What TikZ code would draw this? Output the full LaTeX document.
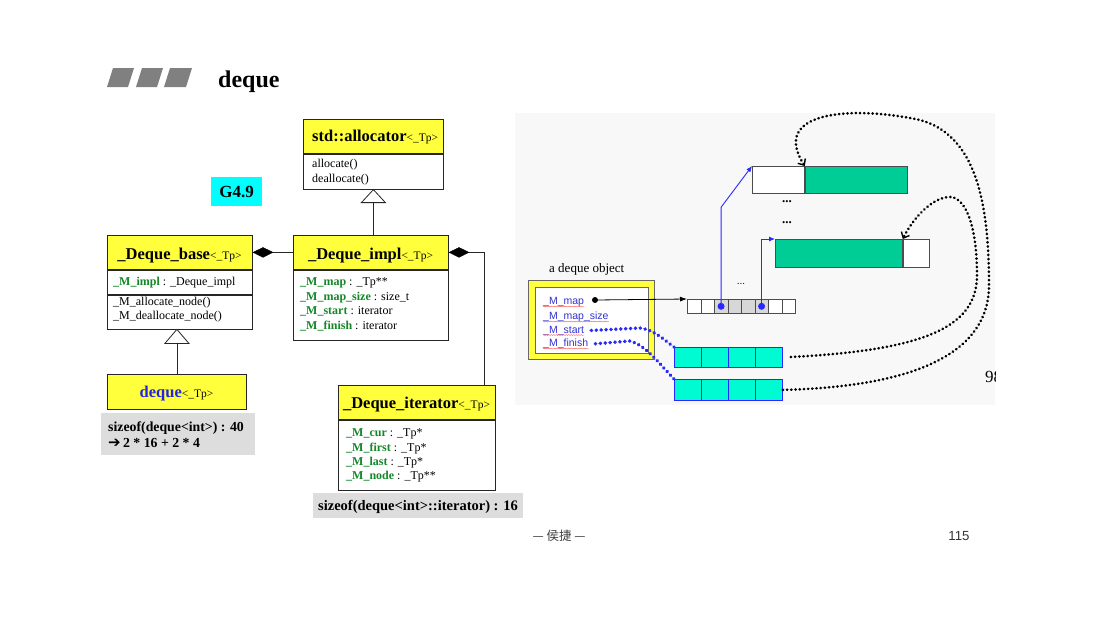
\documentclass[tikz,border=0pt]{standalone}
\usepackage{fontspec}
\setmainfont{Liberation Serif}
\newfontfamily\sansf{Liberation Sans}
\newfontfamily\cjkf{Noto Sans CJK SC}
\newfontfamily\dvf{DejaVu Sans}
\usetikzlibrary{shapes.geometric,arrows.meta,calc,decorations.pathmorphing}
\definecolor{uyellow}{RGB}{255,255,60}
\definecolor{ugreen}{RGB}{20,135,40}
\definecolor{ublue}{RGB}{35,35,230}
\definecolor{ucyan}{RGB}{0,255,255}
\definecolor{bufgreen}{RGB}{0,204,150}
\definecolor{blkcyan}{RGB}{0,250,210}
\definecolor{boxgray}{RGB}{221,221,221}
\definecolor{panelgray}{RGB}{248,248,248}
\definecolor{fieldblue}{RGB}{50,50,210}
\definecolor{linkblue}{RGB}{40,40,255}
\definecolor{titlegray}{RGB}{128,128,128}
\definecolor{mapgray}{RGB}{215,215,215}
\newcommand{\myfs}[1]{\fontsize{#1}{#1}\selectfont}
\newcommand{\ufld}[1]{\textcolor{ugreen}{\textbf{#1}}}
\newcommand{\utp}{{\myfs{11.5}<\_Tp>}}
\begin{document}
\begin{tikzpicture}[x=1pt,y=-1pt,
  umlhead/.style={draw=black!85, fill=uyellow, line width=0.8pt, anchor=north west, inner sep=0pt},
  umlbody/.style={draw=black!85, fill=white, line width=0.8pt, anchor=north west, inner sep=0pt},
  umlline/.style={draw=black!85, line width=0.8pt},
  graybox/.style={fill=boxgray, anchor=north west, inner sep=0pt},
  hdrtxt/.style={inner sep=0pt, anchor=base, font=\myfs{16.5}},
  txt/.style={inner sep=0pt, anchor=base west, font=\myfs{12}},
  diam/.style={diamond, aspect=2, fill=black, draw=black, minimum width=20pt, minimum height=10pt, inner sep=0pt},
  fieldtxt/.style={inner sep=0pt, anchor=base west, font=\sansf\myfs{10.5}, text=fieldblue},
  wavy/.style={draw=red!70, line width=0.35pt, decorate, decoration={snake, amplitude=0.5pt, segment length=2.5pt}},
  mapcell/.style={draw=black!70, line width=0.6pt, anchor=north west, inner sep=0pt, minimum width=13.5pt, minimum height=14pt},
  bufbox/.style={draw=black!70, line width=0.8pt, anchor=north west, inner sep=0pt},
  blk/.style={draw=linkblue, fill=blkcyan, line width=0.8pt, anchor=north west, inner sep=0pt, minimum width=108pt},
  bluelink/.style={draw=linkblue, line width=0.9pt, -{Latex[length=6pt,width=5pt]}},
  bluedots/.style={draw=linkblue, line width=3.6pt, dash pattern=on 0.3pt off 4.6pt, line cap=round},
  blackdots/.style={draw=black, line width=2.7pt, dash pattern=on 0.3pt off 3.9pt, line cap=round, -{Straight Barb[length=5pt,width=9pt,line width=1.4pt]}},
  bigdot/.style={circle, inner sep=0pt, minimum size=#1}
]
\useasboundingbox (0,0) rectangle (1099,630);
\fill[white] (0,0) rectangle (1099,630);

% ---------- title ----------
\fill[titlegray] (107,87) -- (113,68) -- (134,68) -- (128,87) -- cycle;
\fill[titlegray] (136,87) -- (142,68) -- (163,68) -- (157,87) -- cycle;
\fill[titlegray] (164,87) -- (170,68) -- (192,68) -- (186,87) -- cycle;
\node[inner sep=0pt, anchor=base west, font=\bfseries\myfs{24}] (title) at (218,87) {deque};

% ---------- std::allocator ----------
\node[umlhead, minimum width=140pt, minimum height=34pt] (allochdr) at (303,119) {};
\node[umlbody, minimum width=140pt, minimum height=35pt] (allocbody) at (allochdr.south west) {};
\node[inner sep=0pt, anchor=base west, font=\myfs{16.5}] (alloct) at (312,141) {\textbf{std::allocator}\utp};
\node[txt] (alloc1) at (312,167) {allocate()};
\node[txt] (alloc2) at (312,182) {deallocate()};

% ---------- G4.9 ----------
\node[fill=ucyan, anchor=north west, inner sep=0pt, minimum width=51pt, minimum height=29pt] (g49) at (211,177) {};
\node[inner sep=0pt, font=\bfseries\myfs{17}] (g49t) at (g49.center) {G4.9};

% ---------- _Deque_base ----------
\node[umlhead, minimum width=145pt, minimum height=34pt] (basehdr) at (107,235) {};
\node[umlbody, minimum width=145pt, minimum height=24pt] (baseattr) at (basehdr.south west) {};
\node[umlbody, minimum width=145pt, minimum height=34pt] (basemeth) at (baseattr.south west) {};
\node[hdrtxt] (baset) at (179.5,259) {\textbf{\_Deque\_base}\utp};
\node[txt] (base1) at (113,285) {\ufld{\_M\_impl} : \_Deque\_impl};
\node[txt] (base2) at (113,305) {\_M\_allocate\_node()};
\node[txt] (base3) at (113,319) {\_M\_deallocate\_node()};

% ---------- _Deque_impl ----------
\node[umlhead, minimum width=155pt, minimum height=34pt] (implhdr) at (293,235) {};
\node[umlbody, minimum width=155pt, minimum height=70pt] (implbody) at (implhdr.south west) {};
\node[hdrtxt] (implt) at (370.5,259) {\textbf{\_Deque\_impl}\utp};
\node[txt] (impl1) at (300,285) {\ufld{\_M\_map} : \_Tp**};
\node[txt] (impl2) at (300,300) {\ufld{\_M\_map\_size} : size\_t};
\node[txt] (impl3) at (300,314) {\ufld{\_M\_start} : iterator};
\node[txt] (impl4) at (300,329) {\ufld{\_M\_finish} : iterator};

% ---------- _Deque_iterator ----------
\node[umlhead, minimum width=157pt, minimum height=34pt] (iterhdr) at (338,385) {};
\node[umlbody, minimum width=157pt, minimum height=70pt] (iterbody) at (iterhdr.south west) {};
\node[hdrtxt] (itert) at (416.5,408) {\textbf{\_Deque\_iterator}\utp};
\node[txt] (iter1) at (346,436) {\ufld{\_M\_cur} : \_Tp*};
\node[txt] (iter2) at (346,451) {\ufld{\_M\_first} : \_Tp*};
\node[txt] (iter3) at (346,465) {\ufld{\_M\_last} : \_Tp*};
\node[txt] (iter4) at (346,479) {\ufld{\_M\_node} : \_Tp**};

% ---------- deque ----------
\node[umlhead, minimum width=139pt, minimum height=35pt] (dequebox) at (107,374) {};
\node[hdrtxt] (dequet) at (176.5,397) {\textcolor{ublue}{\textbf{deque}}\utp};

% ---------- sizeof boxes ----------
\node[graybox, minimum width=154pt, minimum height=42pt] (sz1) at (101,413) {};
\node[inner sep=0pt, anchor=base west, font=\bfseries\myfs{13.8}] (sz1a) at (108,431) {sizeof(deque<int>) : 40};
\node[inner sep=0pt, anchor=base west, font=\bfseries\myfs{13.8}] (sz1b) at (108,447) {{\dvf\mdseries\myfs{15}➔}\,2 * 16 + 2 * 4};
\node[graybox, minimum width=210pt, minimum height=25pt] (sz2) at (313,493) {};
\node[inner sep=0pt, anchor=base, font=\bfseries\myfs{14.5}] (sz2a) at (418,510) {sizeof(deque<int>::iterator) : 16};

% ---------- UML connectors ----------
\coordinate (a1) at ($(allocbody.south)+(0,13)$);
\draw[umlline, fill=white] (allocbody.south) -- ($(allocbody.south)+(-12,13)$) -- ($(allocbody.south)+(12,13)$) -- cycle;
\draw[umlline] (a1) -- (a1 |- implhdr.north);

\coordinate (b0) at (dequebox.north |- basemeth.south);
\coordinate (b1) at ($(b0)+(0,14)$);
\draw[umlline, fill=white] (b0) -- ($(b0)+(-12,14)$) -- ($(b0)+(12,14)$) -- cycle;
\draw[umlline] (b1) -- (dequebox.north);

\node[diam, anchor=west] (dm1) at (basehdr.east) {};
\draw[umlline] (dm1.east) -- (implhdr.west);
\node[diam, anchor=west] (dm2) at (implhdr.east) {};
\draw[umlline] (dm2.east) -| ([xshift=-11pt]iterhdr.north east);

% ---------- right panel ----------
\fill[panelgray] (515,113) rectangle (995,405);
\begin{scope}
\clip (515,113) rectangle (995,405);
\node[inner sep=0pt, anchor=base west, font=\myfs{17}] (p98) at (985,382) {98};
\end{scope}

\node[inner sep=0pt, anchor=base west, font=\myfs{13}] (dqobj) at (549,272) {a deque object};
\node[fill=uyellow, draw=black!60, line width=0.5pt, anchor=north west, inner sep=0pt, minimum width=126pt, minimum height=79pt] (objframe) at (528,280) {};
\node[fill=white, draw=black!60, line width=0.5pt, anchor=north west, inner sep=0pt, minimum width=113pt, minimum height=66pt] (objinner) at (534.5,286.5) {};
\node[fieldtxt] (fmap) at (543,304.5) {\_M\_map};
\node[fieldtxt] (fmsize) at (543,319.5) {\_M\_map\_size};
\node[fieldtxt] (fstart) at (543,333) {\_M\_start};
\node[fieldtxt] (ffinish) at (543,346.5) {\_M\_finish};
\foreach \f in {fmap,fmsize,fstart,ffinish}
  \draw[wavy] ([yshift=-2pt]\f.base west) -- ([yshift=-2pt]\f.base east);

% map
\foreach \i in {0,...,7} {
  \ifnum\i>1 \ifnum\i<6
    \node[mapcell, fill=mapgray] (m\i) at (687+13.5*\i,299) {};
  \else
    \node[mapcell, fill=white] (m\i) at (687+13.5*\i,299) {};
  \fi \else
    \node[mapcell, fill=white] (m\i) at (687+13.5*\i,299) {};
  \fi
}
\node[bigdot=6pt, fill=black] (mapdot) at (595,300) {};
\draw[draw=black, line width=0.8pt, -{Latex[length=7pt,width=5pt]}] (mapdot) -- (m0.north west);
\node[inner sep=0pt, font=\sansf\myfs{10}] (mdots) at (741,284) {...};

% buffers
\node[bufbox, fill=white, minimum width=52pt, minimum height=27pt] (buf1w) at (752,166) {};
\node[bufbox, fill=bufgreen, minimum width=102pt, minimum height=27pt] (buf1g) at (buf1w.north east) {};
\node[bufbox, fill=bufgreen, minimum width=127pt, minimum height=28pt] (buf2g) at (775,239) {};
\node[bufbox, fill=white, minimum width=26pt, minimum height=28pt] (buf2w) at (buf2g.north east) {};
\node[inner sep=0pt, font=\bfseries\myfs{13}] (vd1) at (787,202) {...};
\node[inner sep=0pt, font=\bfseries\myfs{13}] (vd2) at (787,223) {...};

\draw[bluelink] (m2.center) -- ++(0,-99) -- (buf1w.north west);
\draw[bluelink] (m5.center) |- (buf2g.north west);
\node[bigdot=7pt, fill=linkblue] (bd1) at (m2.center) {};
\node[bigdot=7pt, fill=linkblue] (bd2) at (m5.center) {};

% cyan blocks
\node[blk, minimum height=20pt] (blk1) at (674,347) {};
\node[blk, minimum height=21pt] (blk2) at (674,379) {};
\foreach \b in {blk1,blk2}
  \foreach \k in {1,2,3}
    \draw[linkblue, line width=0.8pt] ($(\b.north west)+(27*\k,0)$) -- ($(\b.south west)+(27*\k,0)$);

% blue dotted links
\draw[bluedots] ([xshift=7pt]fstart.east) -- (640,328) .. controls (655,330) and (664,340) .. (blk1.north west);
\draw[bluedots] ([xshift=7pt]ffinish.east) -- (630,341) .. controls (645,345) and (658,362) .. (blk2.north west);

% black dotted curved links
\draw[blackdots] (blk2.east) .. controls (900,387) and (989,360) .. (989,285)
   .. controls (989,200) and (975,135) .. (920,120)
   .. controls (850,105) and (770,112) .. (buf1g.north west);
\draw[blackdots, shorten <=8pt] (blk1.east) .. controls (930,350) and (977,325) .. (977,275)
   .. controls (977,225) and (965,195) .. (948,197)
   .. controls (930,199) and (912,220) .. (buf2w.north west);

% ---------- footer ----------
\node[inner sep=0pt, font=\cjkf\myfs{12.5}, text=black!75] (author) at (559,536) {— 侯捷 —};
\node[inner sep=0pt, font=\sansf\myfs{13.2}, text=black!80] (pageno) at (959,536) {115};
\end{tikzpicture}
\end{document}
